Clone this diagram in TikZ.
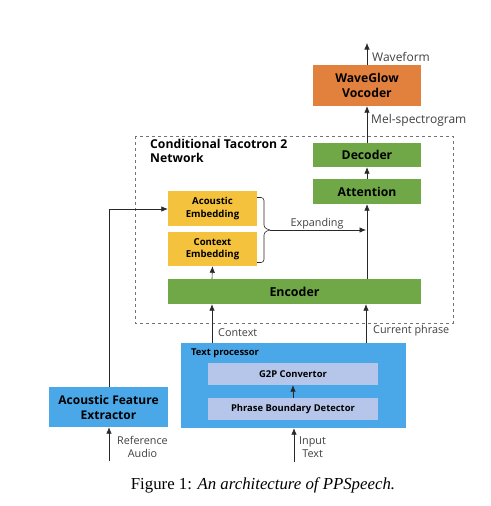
\documentclass[tikz,border=0pt]{standalone}
\usepackage{fontspec}
\setmainfont{Open Sans}
\newfontfamily\capfont{Liberation Serif}
\usetikzlibrary{arrows.meta}
\definecolor{vgreen}{RGB}{112,168,71}
\definecolor{vorange}{RGB}{226,128,62}
\definecolor{vyellow}{RGB}{244,194,60}
\definecolor{vblue}{RGB}{74,168,232}
\definecolor{vlav}{RGB}{182,198,234}
\definecolor{vline}{RGB}{40,40,40}
\tikzset{
  box/.style={draw=none, inner sep=0pt, align=center, font=\bfseries},
  arr/.style={draw=vline, line width=0.6pt, -{Latex[length=6.5pt,width=5.5pt]}},
  lbl/.style={font=\fontsize{10.8}{12.5}\selectfont, text=black!75, inner sep=0pt, align=center}
}
\begin{document}
\begin{tikzpicture}[x=1pt,y=-1pt]
\useasboundingbox (0,0) rectangle (490,506);
% dashed network box
\draw[dashed, draw=black!55, line width=0.6pt] (135,136) rectangle (453,323);
\node[anchor=north west, font=\bfseries\fontsize{12.2}{14.5}\selectfont, align=left, inner sep=0pt] (ttl) at (150,139) {Conditional Tacotron 2\\Network};
% boxes
\node[box, fill=vorange, minimum width=108pt, minimum height=41pt, font=\bfseries\fontsize{12.2}{14.5}\selectfont] (voc) at (367,85.5) {WaveGlow\\Vocoder};
\node[box, fill=vgreen, minimum width=108pt, minimum height=24pt, font=\bfseries\fontsize{12.2}{14}\selectfont] (dec) at (367,155) {Decoder};
\node[box, fill=vgreen, minimum width=108pt, minimum height=25pt, font=\bfseries\fontsize{12.2}{14}\selectfont] (att) at (367,191.5) {Attention};
\node[box, fill=vyellow, minimum width=89pt, minimum height=35pt, font=\bfseries\fontsize{9.6}{12.5}\selectfont] (ac) at (212.5,208.5) {Acoustic\\Embedding};
\node[box, fill=vyellow, minimum width=89pt, minimum height=34pt, font=\bfseries\fontsize{9.6}{12.5}\selectfont] (ce) at (212.5,249) {Context\\Embedding};
\node[box, fill=vgreen, minimum width=253pt, minimum height=25pt, font=\bfseries\fontsize{12.4}{14}\selectfont] (enc) at (294.5,291.5) {Encoder};
\node[box, fill=vblue, minimum width=225pt, minimum height=85pt] (tp) at (293.5,385.5) {};
\node[anchor=north west, font=\bfseries\fontsize{9.4}{11}\selectfont, inner sep=0pt] (tpt) at (191,349) {Text processor};
\node[box, fill=vlav, minimum width=170pt, minimum height=22pt, font=\bfseries\fontsize{9.4}{11}\selectfont] (g2p) at (293,374) {G2P Convertor};
\node[box, fill=vlav, minimum width=170pt, minimum height=22pt, font=\bfseries\fontsize{9.4}{11}\selectfont] (pbd) at (293,409) {Phrase Boundary Detector};
\node[box, fill=vblue, minimum width=119pt, minimum height=40pt, font=\bfseries\fontsize{12}{15}\selectfont] (afe) at (108.5,407) {Acoustic Feature\\Extractor};
% free ends
\coordinate (wtop) at (367,43);
\coordinate (itbot) at (294,462);
\coordinate (rabot) at (109,461);
\coordinate (brtip) at (270,230);
\coordinate (exend) at (366,230);
% arrows
\draw[arr] (voc.north) -- (wtop);
\node[lbl, anchor=west, font=\fontsize{12}{14}\selectfont] (wl) at (372,57) {Waveform};
\draw[arr] (dec.north) -- (voc.south);
\node[lbl, anchor=west, font=\fontsize{12}{14}\selectfont] (ml) at (371,120) {Mel-spectrogram};
\draw[arr] (att.north) -- (dec.south);
\draw[arr] (enc.north -| att.south) -- (att.south);
\draw[arr] (enc.north -| 212,0) -- (ce.south);
\draw[arr] (tp.north -| 212,0) -- (enc.south -| 212,0);
\node[lbl, anchor=west] (cl) at (218,333) {Context};
\draw[arr] (tp.north -| 366,0) -- (enc.south -| 366,0);
\node[lbl, anchor=west] (cpl) at (373,331) {Current phrase};
\draw[arr] (pbd.north) -- (g2p.south);
\draw[arr] (itbot) -- (tp.south -| itbot);
\node[lbl, anchor=west, align=center] (itl) at (299,447) {Input\\Text};
\draw[arr] (rabot) -- (afe.south -| rabot);
\node[lbl, anchor=west, align=center] (ral) at (117,447) {Reference\\Audio};
\draw[arr] (afe.north -| rabot) -- (109,209) -- (ac.west |- 0,209);
% brace
\draw[draw=vline, line width=0.6pt, rounded corners=3pt] (257,197.5) -- (264,197.5) -- (264,228) -- (brtip);
\draw[draw=vline, line width=0.6pt, rounded corners=3pt] (257,262.5) -- (264,262.5) -- (264,232) -- (brtip);
\draw[arr] (brtip) -- (exend);
\node[lbl] (exl) at (317,224) {Expanding};
% caption
\node[font=\capfont\fontsize{16.8}{19}\selectfont, inner sep=0pt] (cap) at (263,485) {Figure 1: \textit{An architecture of PPSpeech.}};
\end{tikzpicture}
\end{document}
